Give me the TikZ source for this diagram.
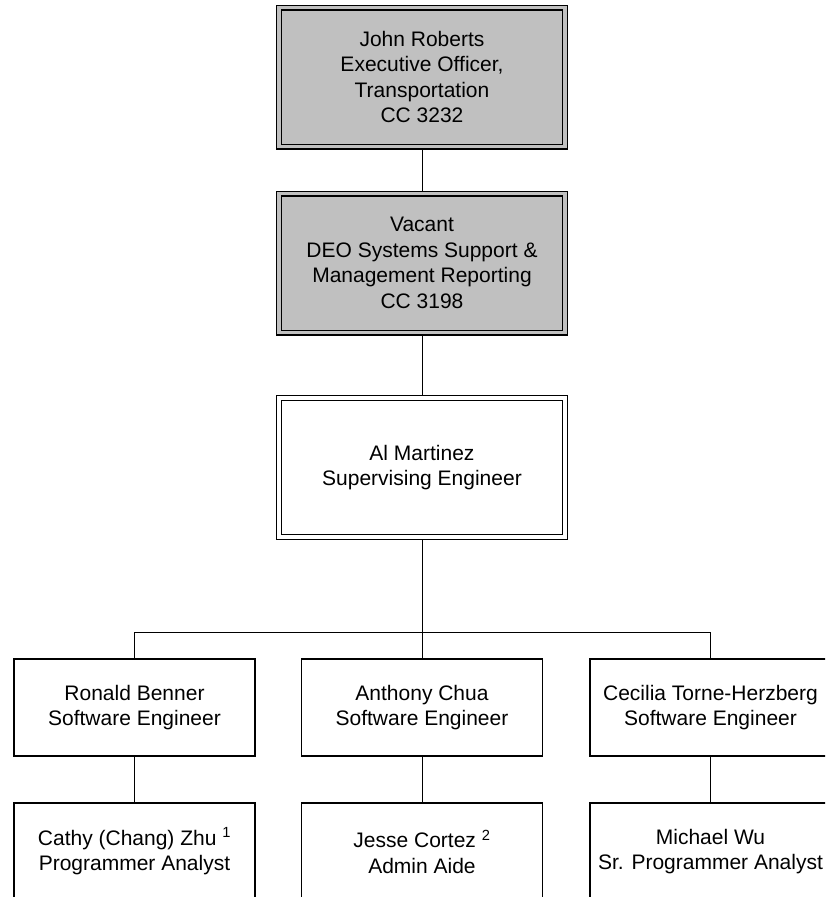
\documentclass[tikz,border=0pt]{standalone}
\usepackage{fontspec}
\setmainfont{Liberation Sans}
\usepackage{tikz}
\usetikzlibrary{backgrounds}
\definecolor{ChiefGray}{HTML}{C0C0C0}
\definecolor{LineBlack}{HTML}{000000}

\begin{document}
\begin{tikzpicture}[x=1pt, y=-1pt, line width=1.3pt,
  every node/.style={font=\fontsize{21}{25.5}\selectfont, align=center, inner sep=0pt},
  chiefbox/.style={rectangle, draw=LineBlack, line width=1.1pt, double=ChiefGray, double distance=3.8pt, fill=ChiefGray, minimum width=286pt, minimum height=139pt},
  leadbox/.style={chiefbox, double=white, fill=white},
  staffbox/.style={rectangle, draw=LineBlack, fill=white, minimum width=241pt, minimum height=97pt}]
  \useasboundingbox (0,0) rectangle (825,897);
  \clip (0,0) rectangle (825,897);
  \node[chiefbox] (roberts)  at (422,77)    {John Roberts\\Executive Officer,\\Transportation\\CC 3232};
  \node[chiefbox] (vacant)   at (422,263)   {Vacant\\DEO Systems Support \&\\Management Reporting\\CC 3198};
  \node[leadbox]  (martinez) at (422,467.5) {Al Martinez\\Supervising Engineer};
  \node[staffbox] (benner) at (134.5,707.5) {Ronald Benner\\Software Engineer};
  \node[staffbox] (chua)   at (422,707.5)   {Anthony Chua\\Software Engineer};
  \node[staffbox] (torne)  at (710.5,707.5) {Cecilia Torne-Herzberg\\Software Engineer};
  \node[staffbox] (zhu)    at (134.5,851.5) {Cathy (Chang) Zhu \textsuperscript{1}\\Programmer Analyst};
  \node[staffbox] (cortez) at (422,851.5)   {Jesse Cortez \textsuperscript{2}\\Admin Aide};
  \node[staffbox] (wu)     at (710.5,851.5) {Michael Wu\\Sr. Programmer Analyst};
  \begin{scope}[on background layer]
    \draw[LineBlack] (roberts) -- (vacant);
    \draw[LineBlack] (vacant) -- (martinez);
    \draw[LineBlack] (martinez) -- (chua);
    \draw[LineBlack] (benner.north) -- ++(0,-26) -| (torne.north);
    \draw[LineBlack] (benner) -- (zhu);
    \draw[LineBlack] (chua) -- (cortez);
    \draw[LineBlack] (torne) -- (wu);
  \end{scope}
\end{tikzpicture}
\end{document}
